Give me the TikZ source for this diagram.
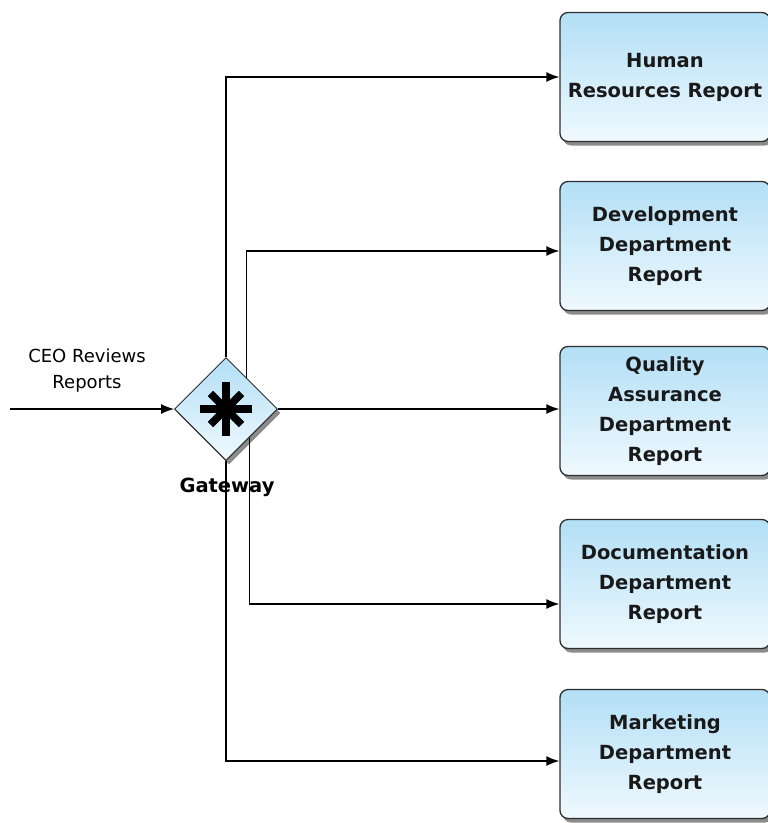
\documentclass[tikz,border=0pt]{standalone}
\usepackage{fontspec}
\setmainfont{DejaVu Sans}
\usetikzlibrary{calc,shapes.geometric,shadows,arrows.meta}

\definecolor{boxtop}{HTML}{B3DFF6}
\definecolor{boxbot}{HTML}{EFF9FE}
\definecolor{edgegray}{HTML}{2E2E2E}

\tikzset{
  report/.style={draw=edgegray, line width=1.3pt, rounded corners=8pt,
    top color=boxtop, bottom color=boxbot,
    minimum width=210pt, minimum height=129pt, align=center,
    text=black!90, font=\bfseries\fontsize{19.5}{30}\selectfont,
    drop shadow={shadow xshift=3pt, shadow yshift=-4pt, fill=black!45, opacity=1}},
  gate/.style={diamond, draw=edgegray, line width=1pt, inner sep=0pt,
    minimum width=103pt, minimum height=103pt, aspect=1,
    top color=boxtop, bottom color=boxbot,
    drop shadow={shadow xshift=3pt, shadow yshift=-4pt, fill=black!45, opacity=1}},
  flow/.style={line width=1.3pt, -{Latex[length=13pt,width=10pt]}},
  lbl/.style={align=center, inner sep=0pt}
}

\begin{document}
\begin{tikzpicture}[x=1pt,y=-1pt]
\useasboundingbox (0,0) rectangle (768,823);

% reports on the right
\node[report] (hr)  at (665,77)  {Human\\Resources Report};
\node[report] (dev) at (665,246) {Development\\Department\\Report};
\node[report] (qa)  at (665,411) {Quality\\Assurance\\Department\\Report};
\node[report] (doc) at (665,584) {Documentation\\Department\\Report};
\node[report] (mkt) at (665,754) {Marketing\\Department\\Report};

% gateway
\node[gate] (gw) at (226,409) {};
\foreach \a/\r in {0/26,90/27,45/22,135/22}
  \draw[line width=7.5pt] (gw.center) ++(\a:\r) -- ++(\a+180:2*\r);
\node[lbl, font=\bfseries\fontsize{19.5}{23}\selectfont, anchor=base] (gwlbl) at (227,492) {Gateway};

% incoming flow
\coordinate (src) at (10,409);
\draw[flow] (src) -- (gw.west);
\node[lbl, font=\fontsize{18}{26}\selectfont] (ceo) at (87,371) {CEO Reviews\\Reports};

% branch heights
\coordinate (t2) at (0,251);
\coordinate (t4) at (0,604);
\coordinate (t5) at (0,761);

% outgoing flows
\draw[flow] (gw.north) |- (hr.west);
\draw[flow] ($(gw.north)!0.4!(gw.east)$) |- (t2 -| dev.west);
\draw[flow] (gw.east) -- (gw.east -| qa.west);
\draw[flow] ($(gw.south)!0.45!(gw.east)$) |- (t4 -| doc.west);
\draw[flow] (gw.south) |- (t5 -| mkt.west);

\end{tikzpicture}
\end{document}
